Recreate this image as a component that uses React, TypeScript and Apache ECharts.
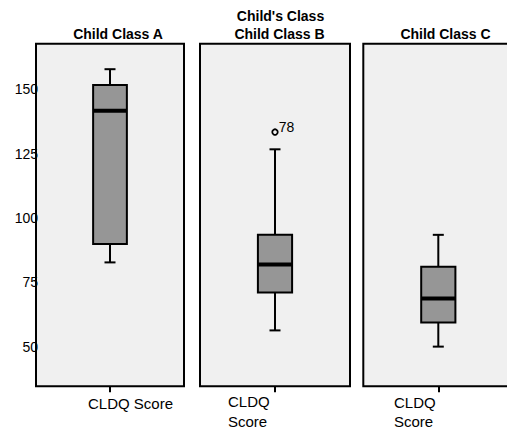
import React, { useEffect, useRef } from 'react';
import * as echarts from 'echarts';

const panelTitles = ['Child Class A', 'Child Class B', 'Child Class C'];
const groupTitle = "Child's Class";
const categories = ['CLDQ Score'];
// [min, Q1, median, Q3, max]
const boxA = [82.8, 89.9, 141.7, 151.7, 157.8];
const boxB = [56.4, 71.1, 82.0, 93.5, 126.7];
const boxC = [50.1, 59.5, 68.8, 81.1, 93.5];
const outlierValuesB = [133.4];
const outlierIdsB = ['78'];
const yTicks = [50, 75, 100, 125, 150];
const yMin = 34.7;
const yMax = 167.7;

const FONT = 'Liberation Sans, Arial, Helvetica, sans-serif';

export default function App() {
  const ref = useRef<HTMLDivElement>(null);
  useEffect(() => {
    if (!ref.current) return;
    const chart = echarts.init(ref.current, null, { renderer: 'svg' });
    const boxes = [boxA, boxB, boxC];
    const gridLefts = [36, 200, 363.3];
    const gridWidths = [148, 150, 150];
    const labelSpecs = [
      { fmt: '{a|CLDQ Score}', width: 126, align: 'right', lh: 16, margin: 9 },
      { fmt: '{a|CLDQ}\n{a|Score}', width: 94, align: 'left', lh: 20, margin: 5 },
      { fmt: '{a|CLDQ}\n{a|Score}', width: 88.6, align: 'left', lh: 19, margin: 6.3 },
    ];

    const renderBox = (params: any, api: any) => {
      const x = api.value(0);
      const lo = api.coord([x, api.value(1)]);
      const q1 = api.coord([x, api.value(2)]);
      const med = api.coord([x, api.value(3)]);
      const q3 = api.coord([x, api.value(4)]);
      const hi = api.coord([x, api.value(5)]);
      const band = api.size([1, 0])[0];
      const bw = band * 0.228;
      const cw = 11;
      const cx = lo[0];
      const ls = { stroke: '#000', lineWidth: 2 };
      return {
        type: 'group',
        children: [
          { type: 'line', shape: { x1: cx, y1: hi[1], x2: cx, y2: q3[1] }, style: ls },
          { type: 'line', shape: { x1: cx, y1: q1[1], x2: cx, y2: lo[1] }, style: ls },
          { type: 'line', shape: { x1: cx - cw / 2, y1: hi[1], x2: cx + cw / 2, y2: hi[1] }, style: ls },
          { type: 'line', shape: { x1: cx - cw / 2, y1: lo[1], x2: cx + cw / 2, y2: lo[1] }, style: ls },
          {
            type: 'rect',
            shape: { x: cx - bw / 2, y: q3[1], width: bw, height: q1[1] - q3[1] },
            style: { fill: '#969696', stroke: '#000', lineWidth: 2 },
          },
          {
            type: 'line',
            shape: { x1: cx - bw / 2, y1: med[1], x2: cx + bw / 2, y2: med[1] },
            style: { stroke: '#000', lineWidth: 4 },
          },
        ],
      };
    };

    const option: any = {
      animation: false,
      backgroundColor: '#fff',
      textStyle: { fontFamily: FONT },
      grid: gridLefts.map((l, i) => ({
        left: l,
        top: 43.7,
        width: gridWidths[i],
        height: 342.6,
        show: true,
        containLabel: false,
        outerBoundsMode: 'none',
        backgroundColor: '#f0f0f0',
        borderColor: '#000',
        borderWidth: 2,
      })),
      xAxis: labelSpecs.map((s, i) => ({
        type: 'category',
        gridIndex: i,
        data: categories,
        axisLine: { show: false },
        axisTick: { show: true, alignWithLabel: true, length: 6, lineStyle: { color: '#000', width: 2 } },
        axisLabel: {
          margin: s.margin,
          formatter: () => s.fmt,
          rich: {
            a: {
              width: s.width,
              align: s.align,
              fontSize: 15,
              lineHeight: s.lh,
              color: '#000',
              fontFamily: FONT,
            },
          },
        },
        splitLine: { show: false },
      })),
      yAxis: [0, 1, 2].map((i) => ({
        type: 'value',
        gridIndex: i,
        min: yMin,
        max: yMax,
        axisLine: { show: false },
        axisTick: { show: false },
        splitLine: { show: false },
        axisLabel: {
          show: i === 0,
          customValues: yTicks,
          margin: -2,
          fontSize: 14,
          color: '#000',
          fontFamily: FONT,
        },
      })),
      graphic: [
        ...panelTitles.map((t, i) => ({
          type: 'text',
          x: [118, 279.5, 445.5][i],
          y: 34.2,
          style: {
            text: t,
            textAlign: 'center',
            textVerticalAlign: 'middle',
            font: `bold 14px ${FONT}`,
            fill: '#000',
          },
        })),
        {
          type: 'text',
          x: 280.5,
          y: 16.4,
          style: {
            text: groupTitle,
            textAlign: 'center',
            textVerticalAlign: 'middle',
            font: `bold 14px ${FONT}`,
            fill: '#000',
          },
        },
      ],
      series: [
        ...boxes.map((b, i) => ({
          type: 'custom',
          xAxisIndex: i,
          yAxisIndex: i,
          renderItem: renderBox,
          encode: { x: 0, y: [1, 2, 3, 4, 5] },
          data: [[0, ...b]],
          z: 3,
        })),
        {
          type: 'scatter',
          xAxisIndex: 1,
          yAxisIndex: 1,
          symbol: 'circle',
          symbolSize: 5.5,
          itemStyle: { color: 'rgba(0,0,0,0)', borderColor: '#000', borderWidth: 1.8, opacity: 1 },
          data: outlierValuesB.map((v) => [0, v]),
          label: {
            show: true,
            position: 'right',
            distance: 0,
            offset: [0, -5.3],
            formatter: (p: any) => outlierIdsB[p.dataIndex],
            fontSize: 14,
            color: '#000',
            opacity: 1,
            fontFamily: FONT,
          },
          z: 4,
        },
      ],
    };
    chart.setOption(option);
    return () => chart.dispose();
  }, []);
  return (
    <div
      ref={ref}
      style={{ position: 'fixed', left: 0, top: 0, width: 507, height: 429 }}
    />
  );
}
